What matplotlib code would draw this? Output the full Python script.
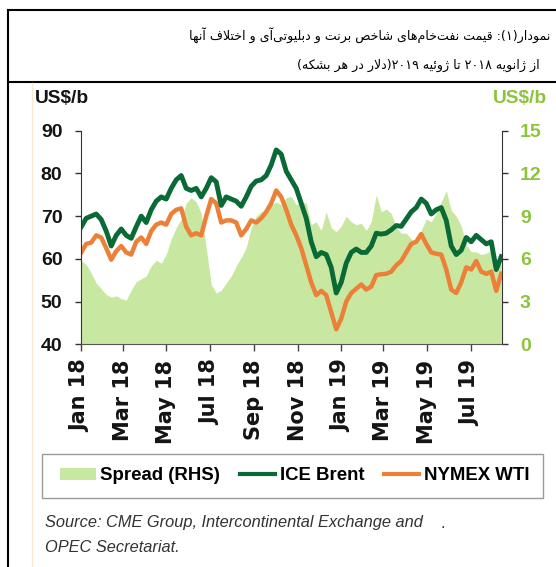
# -*- coding: utf-8 -*-
# Brent / WTI prices and their spread, Jan 2018 - Aug 2019 (weekly readings)
import re
from datetime import date

import matplotlib
matplotlib.use('Agg')
import matplotlib.pyplot as plt
import matplotlib.dates as mdates
from matplotlib.lines import Line2D
from matplotlib.patches import Patch, Rectangle
import pandas as pd

# ---- data (US$/b, one value per week from 2 Jan 2018) ----
brent = [67.5, 69.5, 70.0, 70.5, 69.2, 66.5, 63.0, 65.5, 67.0, 65.5, 64.8, 67.5, 70.0, 68.5,
         71.5, 73.5, 74.5, 74.0, 76.5, 78.5, 79.5, 76.5, 76.0, 76.5, 74.5, 76.5, 79.0, 78.0,
         72.5, 74.5, 74.0, 73.5, 72.3, 74.5, 77.0, 78.2, 78.5, 79.5, 82.0, 85.5, 84.5, 80.5,
         78.5, 76.5, 73.0, 69.5, 64.0, 60.5, 61.5, 61.0, 58.0, 52.0, 54.5, 59.0, 61.5, 62.3,
         61.5, 61.5, 63.0, 66.0, 65.8, 66.0, 66.8, 67.8, 67.6, 69.3, 71.0, 72.0, 74.0, 73.0,
         70.5, 71.5, 72.0, 69.0, 63.0, 61.0, 62.0, 65.0, 64.0, 65.5, 64.5, 63.5, 64.0, 57.5,
         60.5]
wti = [61.5, 63.5, 63.8, 65.5, 65.0, 62.5, 59.8, 61.8, 63.0, 61.5, 61.0, 64.0, 65.0, 63.5,
       66.5, 68.0, 68.5, 68.0, 70.5, 71.5, 71.8, 67.5, 65.5, 66.0, 65.5, 70.0, 74.0, 73.0,
       68.5, 69.0, 69.0, 68.5, 65.5, 67.0, 69.0, 68.5, 69.5, 71.0, 73.0, 76.0, 74.5, 71.5,
       68.0, 65.5, 62.5, 58.5, 54.5, 51.5, 52.5, 51.5, 47.5, 43.5, 46.0, 50.0, 52.0, 53.0,
       54.0, 52.8, 53.5, 56.2, 56.4, 56.5, 57.0, 58.5, 59.5, 61.5, 63.5, 64.0, 65.8, 63.5,
       61.5, 61.2, 61.0, 57.5, 52.8, 52.0, 54.5, 58.0, 57.5, 59.5, 57.0, 56.5, 57.0, 52.5,
       56.5]
spread = [5.9, 5.6, 5.0, 4.3, 3.9, 3.5, 3.3, 3.4, 3.2, 3.1, 3.8, 4.4, 4.6, 4.8,
          5.5, 5.9, 5.7, 6.3, 7.4, 8.2, 8.8, 9.9, 10.3, 10.0, 9.2, 6.8, 4.2, 3.6,
          3.8, 4.3, 4.8, 5.5, 6.1, 6.8, 8.2, 9.0, 9.3, 9.4, 9.8, 10.0, 9.8, 10.3,
          10.4, 9.8, 10.0, 9.9, 8.4, 8.6, 8.0, 9.3, 8.2, 7.9, 8.3, 9.0, 8.6, 8.4,
          8.5, 8.0, 8.6, 10.5, 9.3, 9.5, 9.2, 8.2, 7.8, 7.8, 7.4, 7.2, 8.0, 8.8,
          8.6, 9.2, 10.0, 10.8, 9.4, 9.0, 8.3, 7.0, 6.5, 6.5, 6.3, 6.4, 6.6, 5.9,
          5.6]
dates = pd.date_range('2018-01-02', periods=len(brent), freq='7D')

left_ticks = [40, 50, 60, 70, 80, 90]
right_ticks = [0, 3, 6, 9, 12, 15]

title1 = 'نمودار(۱): قیمت نفت‌خام‌های شاخص برنت و دبلیوتی‌آی و اختلاف آنها'
title2 = 'از ژانویه ۲۰۱۸ تا ژوئیه ۲۰۱۹(دلار در هر بشکه)'
source1 = 'Source: CME Group, Intercontinental Exchange and'
source2 = 'OPEC Secretariat.'

C_BRENT = '#0a6a35'
C_WTI = '#ec8038'
C_SPREAD = '#c8e8a2'
C_RHS = '#8cc43c'

# ---- persian text: matplotlib does no shaping, so pick the joined forms by hand ----
JOIN_D = set('بتثجحخسشصضطظعغفقکگلمنهیيئپچ')
FORMS = {
    'ا': ('\uFE8D', '\uFE8E', None, None),
    'آ': ('\uFE81', '\uFE82', None, None),
    'ب': ('\uFE8F', '\uFE90', '\uFE91', '\uFE92'),
    'ت': ('\uFE95', '\uFE96', '\uFE97', '\uFE98'),
    'خ': ('\uFEA5', '\uFEA6', '\uFEA7', '\uFEA8'),
    'د': ('\uFEA9', '\uFEAA', None, None),
    'ر': ('\uFEAD', '\uFEAE', None, None),
    'ز': ('\uFEAF', '\uFEB0', None, None),
    'ژ': ('\uFB8A', '\uFB8B', None, None),
    'ش': ('\uFEB5', '\uFEB6', '\uFEB7', '\uFEB8'),
    'ص': ('\uFEB9', '\uFEBA', '\uFEBB', '\uFEBC'),
    'ف': ('\uFED1', '\uFED2', '\uFED3', '\uFED4'),
    'ق': ('\uFED5', '\uFED6', '\uFED7', '\uFED8'),
    'ک': ('\uFB8E', '\uFB8F', '\uFB90', '\uFB91'),
    'ل': ('\uFEDD', '\uFEDE', '\uFEDF', '\uFEE0'),
    'م': ('\uFEE1', '\uFEE2', '\uFEE3', '\uFEE4'),
    'ن': ('\uFEE5', '\uFEE6', '\uFEE7', '\uFEE8'),
    'ه': ('\uFEE9', '\uFEEA', '\uFEEB', '\uFEEC'),
    'و': ('\uFEED', '\uFEEE', None, None),
    'ئ': ('\uFE89', '\uFE8A', '\uFE8B', '\uFE8C'),
    'ی': ('\uFBFC', '\uFBFD', '\uFBFE', '\uFBFF'),
}
LAM_ALEF = {'ا': ('\uFEFB', '\uFEFC'), 'آ': ('\uFEF5', '\uFEF6')}


def shape(s):
    out = []
    i = 0
    while i < len(s):
        c = s[i]
        if c not in FORMS:
            if c != '\u200c':
                out.append(c)
            i += 1
            continue
        link_prev = i > 0 and s[i - 1] in JOIN_D
        nxt = s[i + 1] if i + 1 < len(s) else ''
        if c == 'ل' and nxt in LAM_ALEF:
            out.append(LAM_ALEF[nxt][1 if link_prev else 0])
            i += 2
            continue
        link_next = c in JOIN_D and nxt in FORMS
        iso, fin, ini, med = FORMS[c]
        if link_prev and link_next:
            out.append(med)
        elif link_prev:
            out.append(fin)
        elif link_next:
            out.append(ini)
        else:
            out.append(iso)
        i += 1
    return ''.join(out)


def rtl(s):
    t = shape(s)[::-1]
    t = t.translate({ord('('): ')', ord(')'): '('})
    # numbers keep left-to-right order
    return re.sub('[0-9\u06f0-\u06f9]+', lambda m: m.group(0)[::-1], t)


plt.rcParams['font.family'] = ['Liberation Sans', 'DejaVu Sans']
plt.rcParams['font.weight'] = 'bold'

fig = plt.figure(figsize=(5.56, 5.67), dpi=100)

# frame of the table cell around the chart
for y in (0.9824, 0.8545):
    fig.add_artist(Line2D([0.0135, 1.0], [y, y], color='black', lw=1.5))
fig.add_artist(Line2D([0.0135, 0.0135], [0.0, 0.9824], color='black', lw=1.5))
fig.add_artist(Line2D([0.057, 0.057], [0.0, 0.853], color='#fbe8d2', lw=1.0))

fig.text(0.989, 0.938, rtl(title1), ha='right', va='center', family='DejaVu Sans',
         weight='normal', fontsize=9.1, color='black')
fig.text(0.971, 0.885, rtl(title2), ha='right', va='center', family='DejaVu Sans',
         weight='normal', fontsize=9.1, color='black')

ax = fig.add_axes([0.1448, 0.3928, 0.758, 0.3767])
ax2 = ax.twinx()
ax.set_zorder(ax2.get_zorder() + 1)
ax.patch.set_visible(False)

ax2.fill_between(dates, 0, spread, color=C_SPREAD, lw=0)
ax.plot(dates, wti, color=C_WTI, lw=3.2, solid_joinstyle='round')
ax.plot(dates, brent, color=C_BRENT, lw=3.5, solid_joinstyle='round')

ax.set_xlim(date(2018, 1, 1), date(2019, 8, 14))
ax.set_ylim(40, 90)
ax2.set_ylim(0, 15)
ax.set_yticks(left_ticks)
ax2.set_yticks(right_ticks)
ax.xaxis.set_major_locator(mdates.MonthLocator(bymonth=[1, 3, 5, 7, 9, 11]))
ax.xaxis.set_major_formatter(mdates.DateFormatter('%b %y'))

for a in (ax, ax2):
    a.spines['top'].set_visible(False)
ax.spines['right'].set_visible(False)
ax2.spines['left'].set_visible(False)
ax2.spines['bottom'].set_visible(False)
ax.spines['left'].set_color('#333333')
ax.spines['bottom'].set_color('#555555')
ax2.spines['right'].set_color('#333333')

ax.tick_params(axis='y', direction='out', length=4, width=1, color='#333333', pad=9,
               labelsize=14, labelcolor='#141414')
ax2.tick_params(axis='y', direction='out', length=4, width=1, color='#333333', pad=9,
                labelsize=14, labelcolor=C_RHS)
ax.tick_params(axis='x', direction='out', length=5, width=1, color='#444444', pad=6,
               labelsize=15, labelrotation=90, labelcolor='#141414',
               labelfontfamily='DejaVu Sans')

fig.text(0.063, 0.826, 'US$/b', ha='left', va='center', fontsize=13.8, color='#141414')
fig.text(0.887, 0.826, 'US$/b', ha='left', va='center', fontsize=13.8, color=C_RHS)

# legend box drawn on its own so its size matches the original
fig.add_artist(Rectangle((0.0755, 0.1217), 0.901, 0.0776, transform=fig.transFigure,
                         facecolor='white', edgecolor='#9a9a9a', lw=1.0))
handles = [Patch(facecolor=C_SPREAD, edgecolor='none'),
           Line2D([], [], color=C_BRENT, lw=3),
           Line2D([], [], color=C_WTI, lw=3)]
fig.legend(handles, ['Spread (RHS)', 'ICE Brent', 'NYMEX WTI'], ncol=3,
           loc='center', bbox_to_anchor=(0.5306, 0.1605), frameon=False,
           prop={'weight': 'bold', 'size': 13.4},
           handlelength=1.9, handleheight=0.6, handletextpad=0.25,
           columnspacing=1.05, borderpad=0.3, borderaxespad=0)

fig.text(0.081, 0.079, source1, ha='left', va='center', style='italic', weight='normal',
         fontsize=11.8, color='#333333')
fig.text(0.081, 0.035, source2, ha='left', va='center', style='italic', weight='normal',
         fontsize=11.8, color='#333333')
fig.text(0.793, 0.077, '.', ha='left', va='center', weight='normal', fontsize=12,
         color='#333333')

fig.savefig('out.png', dpi=100)
